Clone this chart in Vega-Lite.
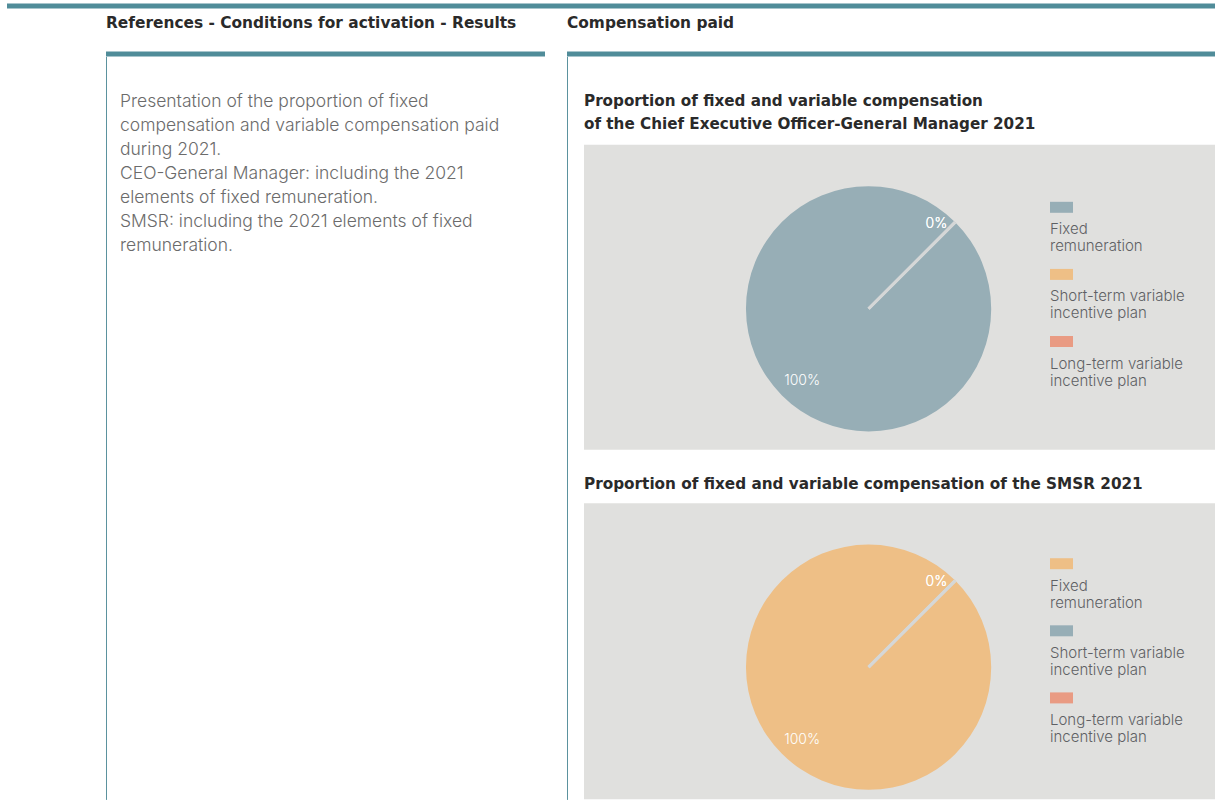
{
  "$schema": "https://vega.github.io/schema/vega-lite/v6.json",
  "padding": {"left": 7, "top": 3.5, "right": 0, "bottom": 0},
  "background": "white",
  "config": {
    "view": {"stroke": null},
    "font": "Inter",
    "title": {"font": "DejaVu Sans", "fontWeight": "bold", "color": "#2a2a2a", "anchor": "start", "baseline": "bottom"},
    "axis": {"grid": false}
  },
  "datasets": {
    "notes": [
      {"line": 1, "text": "Presentation of the proportion of fixed"},
      {"line": 2, "text": "compensation and variable compensation paid"},
      {"line": 3, "text": "during 2021."},
      {"line": 4, "text": "CEO-General Manager: including the 2021"},
      {"line": 5, "text": "elements of fixed remuneration."},
      {"line": 6, "text": "SMSR: including the 2021 elements of fixed"},
      {"line": 7, "text": "remuneration."}
    ],
    "ceo": [
      {"component": "Fixed remuneration", "share": 1},
      {"component": "Short-term variable incentive plan", "share": 0},
      {"component": "Long-term variable incentive plan", "share": 0}
    ],
    "smsr": [
      {"component": "Fixed remuneration", "share": 1},
      {"component": "Short-term variable incentive plan", "share": 0},
      {"component": "Long-term variable incentive plan", "share": 0}
    ]
  },
  "vconcat": [
    {
      "width": 1208, "height": 5,
      "view": {"fill": "#508c99", "stroke": null},
      "data": {"values": []},
      "mark": "point"
    },
    {
      "hconcat": [
        {"width": 77, "height": 1, "data": {"values": []}, "mark": "point"},
        {
          "vconcat": [
            {
              "width": 439, "height": 5,
              "view": {"fill": "#508c99", "stroke": null},
              "title": {"text": "References - Conditions for activation - Results", "fontSize": 15.4, "offset": 19.6},
              "data": {"values": []},
              "mark": "point"
            },
            {
              "width": 439, "height": 743,
              "data": {"name": "notes"},
              "mark": {"type": "text", "align": "left", "baseline": "alphabetic", "dx": 14, "fontSize": 17.5, "fontWeight": 300, "color": "#6b6b6b"},
              "encoding": {
                "x": {"datum": 0, "type": "quantitative", "scale": {"domain": [0, 1]}, "axis": null},
                "y": {
                  "field": "line", "type": "quantitative",
                  "scale": {"domain": [-1.113, 29.847], "reverse": true, "zero": false, "nice": false},
                  "axis": {"orient": "left", "domainColor": "#5b929e", "domainWidth": 1, "ticks": false, "labels": false, "title": null, "grid": false, "minExtent": 0, "maxExtent": 0}
                },
                "text": {"field": "text", "type": "nominal"}
              }
            }
          ],
          "spacing": 0
        },
        {
          "vconcat": [
            {
              "width": 648, "height": 5,
              "view": {"fill": "#508c99", "stroke": null},
              "title": {"text": "Compensation paid", "fontSize": 15.4, "offset": 19.6},
              "data": {"values": []},
              "mark": "point"
            },
            {
              "hconcat": [
                {
                  "width": 17, "height": 743,
                  "data": {"values": []},
                  "mark": "point",
                  "encoding": {
                    "y": {
                      "datum": 0, "type": "quantitative",
                      "scale": {"domain": [0, 1]},
                      "axis": {"orient": "left", "domainColor": "#5b929e", "domainWidth": 1, "ticks": false, "labels": false, "title": null, "grid": false, "minExtent": 0, "maxExtent": 0}
                    }
                  }
                },
                {
                  "vconcat": [
                    {"width": 1, "height": 10.5, "data": {"values": []}, "mark": "point"},
                    {
                      "width": 631, "height": 305,
                      "view": {"fill": "#e0e0de", "stroke": null},
                      "title": {"text": ["Proportion of fixed and variable compensation", "of the Chief Executive Officer-General Manager 2021"], "fontSize": 15.2, "lineHeight": 23.5, "offset": 12.3},
                      "data": {"name": "ceo"},
                      "encoding": {
                        "theta": {"field": "share", "type": "quantitative", "stack": true, "scale": {"range": [0.7854, 7.0686]}},
                        "x": {"datum": 0.451, "type": "quantitative", "scale": {"domain": [0, 1]}, "axis": null},
                        "y": {"datum": 0.5377, "type": "quantitative", "scale": {"domain": [0, 1], "reverse": true}, "axis": null}
                      },
                      "layer": [
                        {
                          "mark": {"type": "arc", "outerRadius": 122.5, "stroke": "#d5d7d7"},
                          "encoding": {
                            "color": {
                              "field": "component", "type": "nominal",
                              "scale": {"domain": ["Fixed remuneration", "Short-term variable incentive plan", "Long-term variable incentive plan"], "range": ["#97aeb6", "#eebf86", "#e99b83"]},
                              "legend": {
                                "orient": "none", "legendX": 466, "legendY": 73, "title": null, "padding": 0,
                                "symbolType": "M-1,-2.39H1V-1.435H-1Z", "symbolSize": 529, "symbolStrokeWidth": 0, "symbolOpacity": 1,
                                "labelOffset": -23, "labelFontSize": 15, "labelFont": "Inter", "labelFontWeight": 300, "labelColor": "#5e6064", "labelLimit": 300,
                                "rowPadding": 14.1,
                                "labelExpr": "datum.label == 'Fixed remuneration' ? ['Fixed', 'remuneration'] : [replace(datum.label, ' incentive plan', ''), 'incentive plan']"
                              }
                            },
                            "order": {"field": "share", "sort": "descending"},
                            "strokeWidth": {"condition": {"test": "datum.share == 0", "value": 3}, "value": 0}
                          }
                        },
                        {
                          "transform": [{"filter": "datum.share == 0"}],
                          "mark": {"type": "text", "radius": 110, "dx": 1, "align": "right", "baseline": "bottom", "fontSize": 14, "fontWeight": 300, "color": "white"},
                          "encoding": {
                            "detail": {"field": "component", "type": "nominal"},
                            "text": {"field": "share", "type": "quantitative", "format": ".0%"}
                          }
                        },
                        {
                          "transform": [{"filter": "datum.share > 0"}],
                          "mark": {"type": "text", "radius": 94, "dy": 6, "align": "center", "baseline": "middle", "fontSize": 14, "fontWeight": 300, "color": "white"},
                          "encoding": {
                            "detail": {"field": "component", "type": "nominal"},
                            "text": {"field": "share", "type": "quantitative", "format": ".0%"}
                          }
                        }
                      ]
                    },
                    {
                      "width": 631, "height": 296,
                      "view": {"fill": "#e0e0de", "stroke": null},
                      "title": {"text": "Proportion of fixed and variable compensation of the SMSR 2021", "fontSize": 15.25, "offset": 11.3},
                      "data": {"name": "smsr"},
                      "encoding": {
                        "theta": {"field": "share", "type": "quantitative", "stack": true, "scale": {"range": [0.7854, 7.0686]}},
                        "x": {"datum": 0.451, "type": "quantitative", "scale": {"domain": [0, 1]}, "axis": null},
                        "y": {"datum": 0.554, "type": "quantitative", "scale": {"domain": [0, 1], "reverse": true}, "axis": null}
                      },
                      "layer": [
                        {
                          "mark": {"type": "arc", "outerRadius": 122.5, "stroke": "#d5d7d7"},
                          "encoding": {
                            "color": {
                              "field": "component", "type": "nominal",
                              "scale": {"domain": ["Fixed remuneration", "Short-term variable incentive plan", "Long-term variable incentive plan"], "range": ["#eebf86", "#97aeb6", "#e99b83"]},
                              "legend": {
                                "orient": "none", "legendX": 466, "legendY": 71, "title": null, "padding": 0,
                                "symbolType": "M-1,-2.39H1V-1.435H-1Z", "symbolSize": 529, "symbolStrokeWidth": 0, "symbolOpacity": 1,
                                "labelOffset": -23, "labelFontSize": 15, "labelFont": "Inter", "labelFontWeight": 300, "labelColor": "#5e6064", "labelLimit": 300,
                                "rowPadding": 14.1,
                                "labelExpr": "datum.label == 'Fixed remuneration' ? ['Fixed', 'remuneration'] : [replace(datum.label, ' incentive plan', ''), 'incentive plan']"
                              }
                            },
                            "order": {"field": "share", "sort": "descending"},
                            "strokeWidth": {"condition": {"test": "datum.share == 0", "value": 3}, "value": 0}
                          }
                        },
                        {
                          "transform": [{"filter": "datum.share == 0"}],
                          "mark": {"type": "text", "radius": 110, "dx": 1, "align": "right", "baseline": "bottom", "fontSize": 14, "fontWeight": 300, "color": "white"},
                          "encoding": {
                            "detail": {"field": "component", "type": "nominal"},
                            "text": {"field": "share", "type": "quantitative", "format": ".0%"}
                          }
                        },
                        {
                          "transform": [{"filter": "datum.share > 0"}],
                          "mark": {"type": "text", "radius": 94, "dy": 6, "align": "center", "baseline": "middle", "fontSize": 14, "fontWeight": 300, "color": "white"},
                          "encoding": {
                            "detail": {"field": "component", "type": "nominal"},
                            "text": {"field": "share", "type": "quantitative", "format": ".0%"}
                          }
                        }
                      ]
                    }
                  ],
                  "spacing": 26.4,
                  "resolve": {"scale": {"color": "independent", "x": "independent", "y": "independent", "theta": "independent"}, "legend": {"color": "independent"}}
                }
              ],
              "spacing": 0,
              "resolve": {"scale": {"color": "independent", "x": "independent", "y": "independent"}}
            }
          ],
          "spacing": 0,
          "resolve": {"scale": {"color": "independent", "x": "independent", "y": "independent"}}
        }
      ],
      "spacing": 22,
      "resolve": {"scale": {"color": "independent", "x": "independent", "y": "independent"}}
    }
  ],
  "spacing": 7.9,
  "resolve": {"scale": {"color": "independent", "x": "independent", "y": "independent"}}
}
